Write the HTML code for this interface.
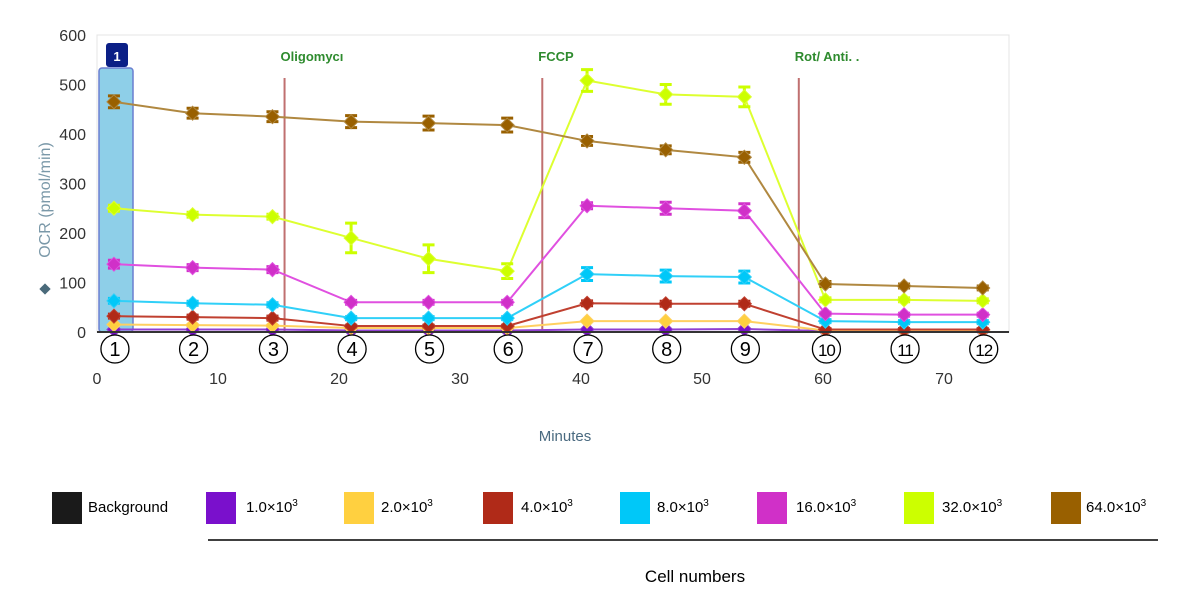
<!DOCTYPE html>
<html><head><meta charset="utf-8"><style>
body{margin:0;background:#fff;width:1200px;height:608px;overflow:hidden;font-family:"Liberation Sans",sans-serif}
svg{display:block}
</style></head><body>
<svg id="chart" width="1200" height="608">
<rect x="97" y="35" width="912" height="297" fill="#fff" stroke="#e4e4e4"/>
<g id="grid"></g>
<rect x="99" y="68" width="34" height="264" rx="3" fill="#8ecfe8" stroke="#6a7fd0" stroke-width="1.5"/>
<rect x="106" y="43" width="22" height="24" rx="3" fill="#0b1f86"/>
<text x="117" y="61" fill="#fff" font-size="13" font-weight="bold" text-anchor="middle">1</text>
<g id="inj"></g>
<g id="series"></g>
<line x1="97" y1="332" x2="1009" y2="332" stroke="#333" stroke-width="2"/>
<g id="axes"></g>
<text x="565" y="441" fill="#4a6a80" font-size="15" text-anchor="middle">Minutes</text>
<text transform="translate(50,200) rotate(-90)" fill="#7a98a8" font-size="16" text-anchor="middle">OCR (pmol/min)</text>
<rect x="41" y="285" width="8" height="8" fill="#4a6a7a" transform="rotate(45 45 289)"/>
<g id="legend"></g>
<line x1="208" y1="540" x2="1158" y2="540" stroke="#000" stroke-width="1.5"/>
<text x="695" y="582" font-size="17" text-anchor="middle">Cell numbers</text>
</svg>
<script>
const times=[1.4,7.9,14.5,21,27.4,33.9,40.5,47,53.5,60.2,66.7,73.2];
const yTicks=[0,100,200,300,400,500,600];
const xTicks=[0,10,20,30,40,50,60,70];
const injTimes=[15.5,36.8,58];
const injLabels=["Oligomycı","FCCP","Rot/ Anti. ."];
const names=["Background","1.0×10","2.0×10","4.0×10","8.0×10","16.0×10","32.0×10","64.0×10"];
const colors=["#1a1a1a","#7a10cc","#ffd040","#b02a18","#00c8f8","#d030c8","#ccff00","#996000"];
const lineColors=["#1a1a1a","#9040d0","#ffd060","#c04030","#30d0f8","#e050e0","#ddff30","#b08840"];
const vBg=[0,0,0,0,0,0,0,0,0,0,0,0];
const v1k=[5,5,5,3,3,3,5,5,6,2,2,2];
const v2k=[15,14,13,8,8,8,22,22,22,3,3,3];
const v4k=[32,30,28,12,12,12,58,57,57,5,5,5];
const v8k=[63,58,55,28,28,28,117,113,111,22,20,20];
const v16k=[137,130,126,60,60,60,255,250,245,37,35,35];
const v32k=[250,237,233,190,148,123,508,480,475,65,65,63];
const v64k=[465,442,435,425,422,418,386,368,353,97,93,89];
const e32k=[6,5,5,30,28,15,22,20,20,4,4,4];
const e64k=[12,10,10,12,14,14,9,8,10,5,4,4];
const e16k=[8,6,6,4,4,4,6,12,14,3,3,3];
const e8k=[5,4,4,3,3,3,13,12,12,3,3,3];
const vals=[vBg,v1k,v2k,v4k,v8k,v16k,v32k,v64k];
const errs=[null,null,null,[4,4,4,2,2,2,5,5,5,2,2,2],e8k,e16k,e32k,e64k];
const NS="http://www.w3.org/2000/svg";
const X=t=>97+t*12.1;
const Y=v=>332-v*0.495;
function mk(tag,attrs,parent){const e=document.createElementNS(NS,tag);for(const k in attrs)e.setAttribute(k,attrs[k]);parent.appendChild(e);return e;}
const axes=document.getElementById('axes');
yTicks.forEach(v=>{const t=mk('text',{x:86,y:Y(v)+6,'font-size':16,fill:'#333','text-anchor':'end'},axes);t.textContent=v;

});
xTicks.forEach(v=>{const t=mk('text',{x:X(v),y:384,'font-size':16,fill:'#333','text-anchor':'middle'},axes);t.textContent=v;

});
times.forEach((t,i)=>{const g=mk('g',{},axes);


mk('circle',{cx:X(t)+1,cy:349,r:14,fill:'#fff',stroke:'#000','stroke-width':1.3},g);
const tx=mk('text',{x:X(t)+1,y:356,'font-size':i>=9?17:20,'text-anchor':'middle',fill:'#000','letter-spacing':i>=9?'-1':'0'},g);tx.textContent=i+1;});
const inj=document.getElementById('inj');
injTimes.forEach((t,i)=>{const l=mk('line',{x1:X(t),y1:78,x2:X(t),y2:332,stroke:'#c07070','stroke-width':2},inj);


const tx=mk('text',{x:X(t)-4,y:61,'font-size':13,'font-weight':'bold',fill:'#2e8b2e'},inj);tx.textContent=injLabels[i];

});
const ser=document.getElementById('series');
for(let s=1;s<vals.length;s++){
const g=mk('g',{},ser);


mk('polyline',{points:times.map((t,i)=>X(t)+','+Y(vals[s][i])).join(' '),fill:'none',stroke:lineColors[s],'stroke-width':2},g);
times.forEach((t,i)=>{const x=X(t),y=Y(vals[s][i]);
if(errs[s]){const e=errs[s][i]*0.495;
const b=mk('path',{d:`M${x-6},${y-e}H${x+6}M${x},${y-e}V${y+e}M${x-6},${y+e}H${x+6}`,stroke:colors[s],'stroke-width':3,fill:'none'},g);

}
const p=mk('path',{d:`M${x},${y-7}L${x+7},${y}L${x},${y+7}L${x-7},${y}Z`,fill:colors[s],stroke:lineColors[s],'stroke-width':1},g);

});
}
const lg=document.getElementById('legend');
const sw=[52,206,344,483,620,757,904,1051];
const tx=[88,246,381,521,657,796,942,1086];
names.forEach((n,i)=>{const g=mk('g',{},lg);


mk('rect',{x:sw[i],y:492,width:30,height:32,fill:colors[i]},g);
const t=mk('text',{x:tx[i],y:512,'font-size':15,fill:'#000'},g);t.textContent=n;
if(i>0){const s=mk('tspan',{dy:-6,'font-size':10},t);s.textContent='3';}});
</script>
</body></html>
